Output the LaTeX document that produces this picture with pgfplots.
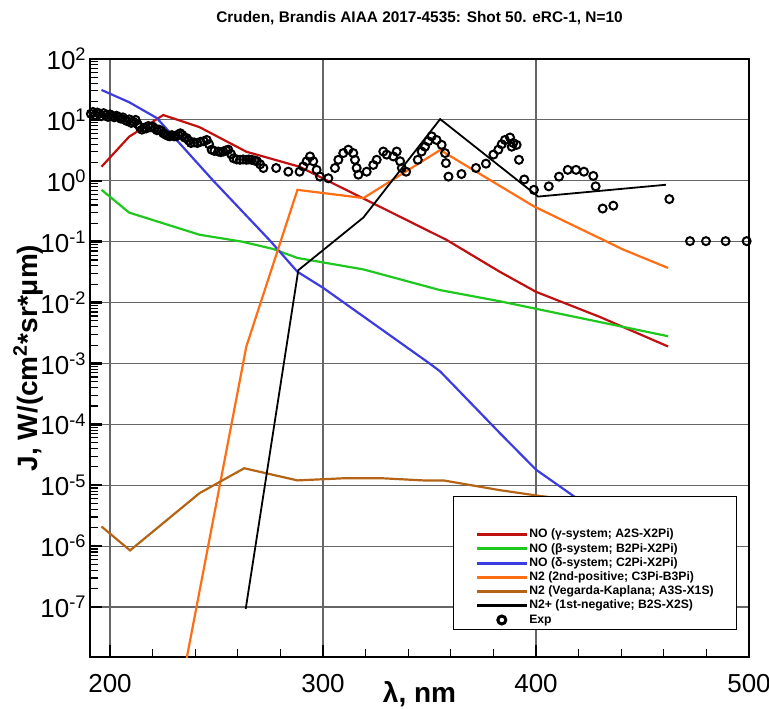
\documentclass[border=0pt]{standalone}
\usepackage{fontspec}
\setmainfont{Liberation Sans}
\usepackage{pgfplots}
\pgfplotsset{compat=1.18}
\definecolor{cred}{RGB}{192,16,16}
\definecolor{cgreen}{RGB}{30,200,30}
\definecolor{cblue}{RGB}{60,60,225}
\definecolor{corange}{RGB}{255,110,20}
\definecolor{cbrown}{RGB}{180,100,20}
\begin{document}
\begin{tikzpicture}
\begin{axis}[
  name=ax,
  scale only axis, width=329.5pt, height=299pt,
  xmin=190.6, xmax=500,
  ymode=log, ymin=1.51e-8, ymax=100,
  xtick={200,300,400,500}, minor x tick num=4,
  /pgf/number format/assume math mode=true,
  ytick={1e-7,1e-6,1e-5,1e-4,1e-3,1e-2,1e-1,1,10,100},
  yticklabels={10\textsuperscript{-7},10\textsuperscript{-6},10\textsuperscript{-5},10\textsuperscript{-4},10\textsuperscript{-3},10\textsuperscript{-2},10\textsuperscript{-1},10\textsuperscript{0},10\textsuperscript{1},10\textsuperscript{2}},
  tick pos=left, tick align=inside,
  major tick length=6pt, minor tick length=4pt,
  major tick style={line width=1.2pt,black},
  minor tick style={line width=0.6pt,black},
  grid=major, major grid style={black!60, line width=0.6pt},
  axis line style={line width=1.3pt},
  tick label style={font=\fontsize{13}{15}\selectfont},
  xticklabel style={yshift=-5pt},
  yticklabel style={inner xsep=1.5pt},
  title={Cruden, Brandis AIAA 2017-4535: Shot 50. eRC-1, N=10},
  title style={font=\fontsize{7.7}{9}\selectfont\bfseries, at={(axis description cs:0.5,1)}, anchor=base, yshift=12pt},
  xlabel={λ, nm},
  xlabel style={font=\fontsize{14}{16}\selectfont\bfseries, at={(axis description cs:0.5,0)}, anchor=base, yshift=-22.5pt},
  ylabel={J, W/(cm\textsuperscript{2}*sr*μm)},
  ylabel style={font=\fontsize{14}{16}\selectfont\bfseries, at={(axis description cs:-0.094,0.5)}, anchor=center},
  legend image code/.code={\draw[mark repeat=2,mark phase=2,#1,line width=1.5pt] plot coordinates {(0pt,0pt) (12.5pt,0pt) (25pt,0pt)};},
  legend style={at={(0.982,0.045)}, anchor=south east, draw=black, fill=white,
    font=\fontsize{6.1}{7}\selectfont\bfseries, inner xsep=11pt, inner ysep=1.3pt,
    nodes={inner sep=0.5pt, text height=4.6pt, text depth=1.5pt},
    /tikz/every even column/.append style={column sep=3pt}},
  legend cell align=left,
]
\addlegendimage{empty legend}\addlegendentry{}
\addlegendimage{empty legend}\addlegendentry{}
% NO gamma
\addplot[cred, line width=1.1pt] coordinates {
(196,1.7)(209,5.3)(225,12)(242,7.6)(264,3.0)(289,1.7)(345,0.18)(358,0.107)(383,0.032)(400,0.015)(430,0.0058)(462,0.0019)};
\addlegendentry{NO (γ-system; A2S-X2Pi)}
% NO beta
\addplot[cgreen, line width=1.1pt] coordinates {
(196,0.71)(209,0.30)(225,0.20)(242,0.13)(262,0.10)(276.5,0.076)(288,0.054)(319,0.035)(355,0.016)(383,0.0105)(400,0.0079)(462,0.0028)};
\addlegendentry{NO (β-system; B2Pi-X2Pi)}
% NO delta
\addplot[cblue, line width=1.1pt] coordinates {
(196,31)(209,19.5)(222,10.7)(248.5,1.0)(275,0.105)(288,0.032)(300,0.0175)(350,0.001)(355,7.4e-4)(383,7.2e-5)(400,1.8e-5)(418,6.5e-6)(462,5.5e-7)};
\addlegendentry{NO (δ-system; C2Pi-X2Pi)}
% N2 2nd positive
\addplot[corange, line width=1.1pt] coordinates {
(230,1.15e-9)(264,1.9e-3)(288,0.71)(319,0.52)(355,3.2)(399,0.38)(441,0.074)(462,0.037)};
\addlegendentry{N2 (2nd-positive; C3Pi-B3Pi)}
% N2 VK
\addplot[cbrown, line width=1.1pt] coordinates {
(196,2.1e-6)(209.4,8.5e-7)(242,7.4e-6)(263,1.9e-5)(288,1.2e-5)(309.5,1.3e-5)(328,1.3e-5)(347,1.2e-5)(356.5,1.2e-5)(383,8.3e-6)(400,6.8e-6)(430,5e-6)(462,4e-6)};
\addlegendentry{N2 (Vegarda-Kaplana; A3S-X1S)}
% N2+ 1st negative
\addplot[black, line width=0.9pt] coordinates {
(263.7,9.3e-8)(288.4,0.034)(319,0.25)(355,10.3)(401,0.55)(461,0.86)};
\addlegendentry{N2+ (1st-negative; B2S-X2S)}
% Exp
\addplot[only marks, mark=o, mark size=2.0pt, line width=1pt, black] coordinates {
(191,12.6)(192,13.5)(193,12.0)(194,13.2)(195,12.6)(196,11.5)(197,12.9)(198,12.0)(199,11.2)(200,12.3)
(201,11.5)(202,11.0)(203,11.7)(204,11.2)(205,10.5)(206,11.0)(207,10.0)(208,9.55)(209,10.2)(210,8.91)
(211,9.33)(212,10.0)(213,8.51)(214,7.59)(215,6.92)(216,7.41)(217,7.24)(218,7.94)(219,7.59)(220,7.76)
(221,7.24)(222,6.76)(223,6.92)(224,6.61)(225,6.03)(226,5.75)(227,5.50)(228,5.37)(229,5.62)(230,5.37)
(231,5.37)(232,5.75)(233,6.03)(234,5.62)(235,5.13)(236,5.01)(237,4.57)(238,4.17)(239.5,4.27)(241,4.17)
(242.5,4.37)(244,4.47)(245.4,4.68)(246.5,3.98)(247.7,3.24)(249,3.09)(250.8,3.02)(252,2.95)(253.2,3.02)(254.5,3.16)
(255.5,3.24)(256.8,2.75)(258,2.34)(259.5,2.24)(261,2.21)(262.5,2.24)(264,2.21)(265.2,2.24)(266.5,2.21)(268,2.14)
(269,2.09)(270.5,1.86)(272,1.62)(278,1.62)(283.7,1.41)(289,1.41)(290.7,1.72)(292.3,2.09)(293.9,2.51)(295.4,2.09)
(297,1.51)(298.6,1.17)(302.5,1.10)(305.6,1.62)(307.2,2.21)(309.5,2.85)(311.9,3.24)(314.2,2.85)(315,2.21)(315.8,1.62)
(316.6,1.26)(320.5,1.41)(323.6,1.82)(325.2,2.21)(328.3,3.02)(329.9,2.69)(333,2.51)(334.6,3.02)(336.2,2.09)(337,1.62)
(339,1.41)(344.5,2.21)(346.3,3.02)(347.9,3.63)(349.4,4.47)(351,5.37)(353.3,4.68)(355.7,3.89)(357.3,2.85)(357.7,1.95)
(358.9,1.17)(365,1.29)(371.8,1.62)(376.5,1.91)(380,2.69)(382.3,3.24)(383.9,3.98)(385.4,4.68)(387.8,5.13)(389.3,4.17)
(390.9,3.89)(388.6,3.63)(392,2.21)(394.5,1.05)(399,0.71)(406,0.81)(410.8,1.17)(414.9,1.51)(418.8,1.51)(422.5,1.41)
(426.9,1.20)(428,0.81)(431.3,0.35)(436.3,0.39)(462.6,0.50)(472.3,0.102)(479.8,0.102)(489,0.102)(498.9,0.102)};
\addlegendentry{Exp}
\end{axis}
\pgfresetboundingbox
\path ([shift={(-45pt,-26pt)}]ax.south west) rectangle ([shift={(10pt,29.5pt)}]ax.north east);
\end{tikzpicture}
\end{document}
